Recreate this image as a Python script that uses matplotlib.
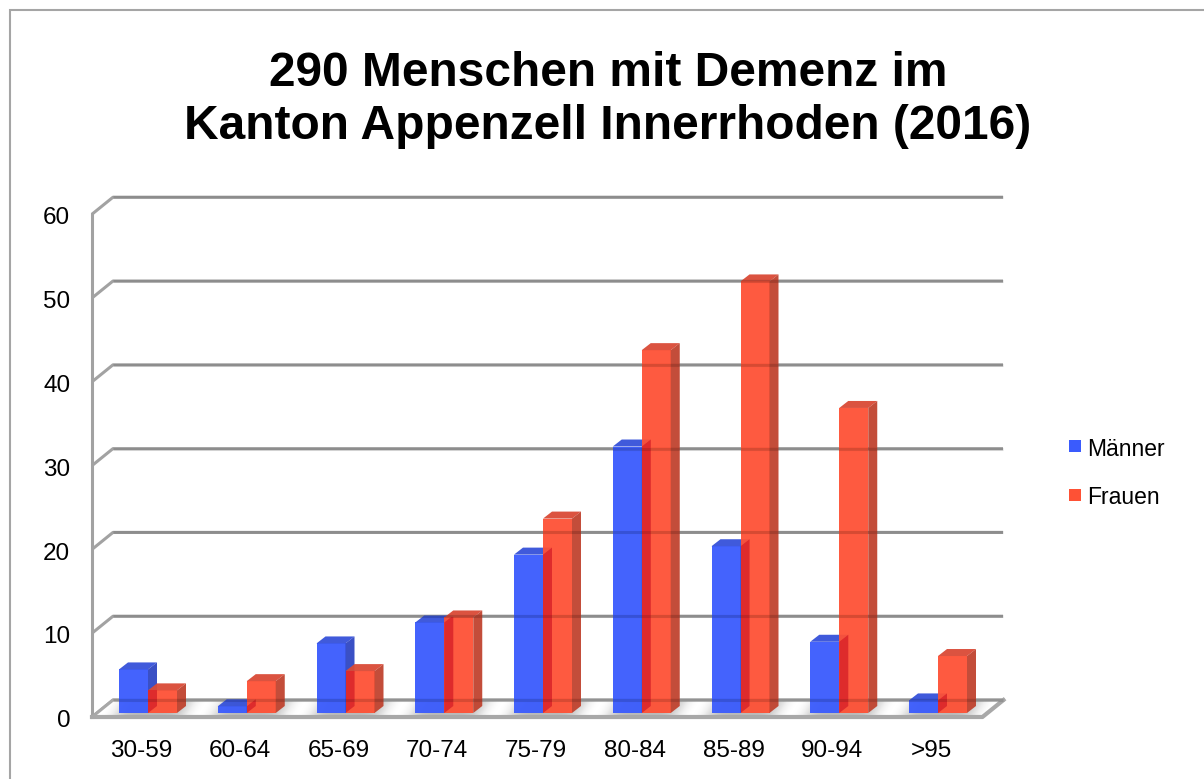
import numpy as np
import matplotlib.pyplot as plt
from matplotlib.patches import Polygon, Rectangle

# values
categories = ['30-59', '60-64', '65-69', '70-74', '75-79', '80-84', '85-89', '90-94', '>95']
maenner = [5.2, 0.8, 8.3, 10.8, 18.9, 31.8, 19.9, 8.5, 1.5]
frauen = [2.7, 3.8, 5.0, 11.4, 23.2, 43.3, 51.5, 36.4, 6.8]
y_ticks = [0, 10, 20, 30, 40, 50, 60]
series_names = ['Männer', 'Frauen']
title = '290 Menschen mit Demenz im\nKanton Appenzell Innerrhoden (2016)'

plt.rcParams['font.family'] = ['Liberation Sans', 'DejaVu Sans']

W, H = 1204, 779
fig = plt.figure(figsize=(W / 100, H / 100), dpi=100)

# plot area, in pixels of the reference
px_cat = 98.75      # pixels per category
px_val = 8.38       # pixels per unit
x_left = (92 - 148) / px_cat
x_right = (1003 - 148) / px_cat
y_bottom = (713 - 717) / px_val
y_top = (713 - 197) / px_val

ax = fig.add_axes([92 / W, (H - 717) / H, (1003 - 92) / W, (717 - 197) / H])
ax.set_xlim(x_left, x_right)
ax.set_ylim(y_bottom, y_top)
ax.axis('off')

# depth of the back wall and of the bars
wall_dx = 21 / px_cat
wall_dy = 17 / px_val
bar_w = 29 / px_cat
bar_dx = 9 / px_cat
bar_dy = 7 / px_val

grid_col = '#a2a2a2'

# grid lines on the back wall with the slanted link to the front axis
for v in y_ticks:
    yf = v + y_bottom
    yb = yf + wall_dy
    ax.plot([x_left, x_left + wall_dx, x_right], [yf, yb, yb],
            color=grid_col, lw=2.2, solid_capstyle='butt', zorder=1, clip_on=False)
    # faint copy over the bars, like the see-through bars of the original
    ax.plot([x_left + wall_dx, x_right], [yb, yb], color='black', alpha=0.13, lw=2.2,
            solid_capstyle='butt', zorder=6, clip_on=False)
ax.plot([x_left, x_left], [y_bottom, y_ticks[-1] + y_bottom], color=grid_col, lw=2.2,
        zorder=1, clip_on=False)

# floor
floor_right = len(categories) - 1 + 0.45
floor_pts = [(x_left, y_bottom), (x_left + wall_dx, y_bottom + wall_dy),
             (floor_right + wall_dx, y_bottom + wall_dy), (floor_right, y_bottom)]
floor = Polygon(floor_pts, closed=True, facecolor='#d4d4d4', edgecolor='none', zorder=1.5,
                clip_on=False)
ax.add_patch(floor)
xs = np.linspace(x_left, floor_right + wall_dx, 900)
ys = np.linspace(y_bottom, y_bottom + wall_dy, 20)
gx, gy = np.meshgrid(xs, ys)
shade = 0.5 + 0.5 * np.cos(2 * np.pi * (gx - 0.5 - (gy - y_bottom) * 0.05))
img = ax.imshow(shade ** 3, extent=[xs[0], xs[-1], ys[0], ys[-1]], origin='lower',
                cmap='Greys_r', vmin=-1.6, vmax=1.0, aspect='auto', zorder=1.6,
                interpolation='bilinear')
img.set_clip_path(floor)
ax.set_xlim(x_left, x_right)
ax.set_ylim(y_bottom, y_top)
ax.plot([x_left, floor_right, floor_right + wall_dx], [y_bottom, y_bottom, y_bottom + wall_dy],
        color='#a8a8a8', lw=3, zorder=1.7, clip_on=False)
ax.plot([x_left, x_left + wall_dx, floor_right + wall_dx],
        [y_bottom, y_bottom + wall_dy, y_bottom + wall_dy],
        color='#a8a8a8', lw=2.2, zorder=1.7, clip_on=False)

colors = {
    'Männer': ('#3a5bfd', '#3551d9', '#2f46c2'),
    'Frauen': ('#fe5135', '#d94a36', '#c0432f'),
}
overlap_col = '#de2b2c'

x = np.arange(len(categories))


def draw_3d_bars(xpos, values, cols, z):
    front, top, side = cols
    rects = ax.bar(xpos, values, width=bar_w, align='edge', color=front, alpha=0.95,
                   linewidth=0, zorder=z)
    for xi, v in zip(xpos, values):
        ax.add_patch(Polygon([(xi, v), (xi + bar_dx, v + bar_dy),
                              (xi + bar_w + bar_dx, v + bar_dy), (xi + bar_w, v)],
                             closed=True, facecolor=top, edgecolor='none', alpha=0.95,
                             zorder=z))
        ax.add_patch(Polygon([(xi + bar_w, 0), (xi + bar_w + bar_dx, bar_dy),
                              (xi + bar_w + bar_dx, v + bar_dy), (xi + bar_w, v)],
                             closed=True, facecolor=side, edgecolor='none', alpha=0.95,
                             zorder=z))
    return rects


draw_3d_bars(x - bar_w, maenner, colors['Männer'], 3)
red_rects = draw_3d_bars(x, frauen, colors['Frauen'], 4)

# darker red where the side of the blue bar shows through the red front
for xi, v, r in zip(x - bar_w, maenner, red_rects):
    p = Polygon([(xi + bar_w, 0), (xi + bar_w + bar_dx, bar_dy),
                 (xi + bar_w + bar_dx, v + bar_dy), (xi + bar_w, v)],
                closed=True, facecolor=overlap_col, edgecolor='none', zorder=5)
    ax.add_patch(p)
    p.set_clip_path(r)

# axis labels
for i, lab in enumerate(categories):
    ax.text(i - 0.07, -4.5, lab, ha='center', va='center', fontsize=17.5, clip_on=False)
for v in y_ticks:
    ax.text(x_left - 0.22, v + y_bottom - 0.5, str(v), ha='right', va='center',
            fontsize=17.5, clip_on=False)

# legend
for k, name in enumerate(series_names):
    yc = 446 + k * 49
    fig.patches.append(Rectangle((1069 / W, (H - yc - 6) / H), 12 / W, 12 / H,
                                 transform=fig.transFigure, facecolor=colors[name][0],
                                 edgecolor='none'))
    fig.text(1087 / W, (H - yc - 3) / H, name, ha='left', va='center', fontsize=16.5)

fig.text(608 / W, (H - 100) / H, title, ha='center', va='center', fontsize=34.5,
         fontweight='bold', linespacing=1.22)

# frame round the chart
fig.patches.append(Rectangle((10 / W, -0.05), 1.2, (H - 10) / H + 0.05,
                             transform=fig.transFigure, facecolor='none',
                             edgecolor='#a5a5a5', lw=1.5))

fig.savefig('out.png', dpi=100)
